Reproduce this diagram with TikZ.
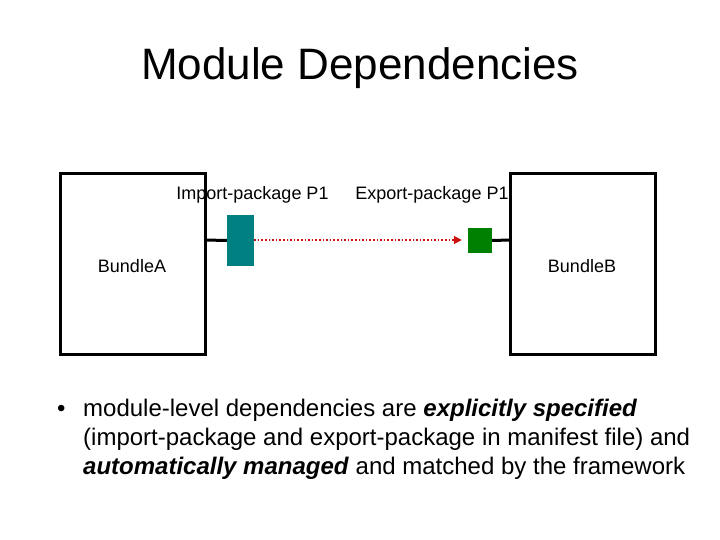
\documentclass[tikz,border=0pt]{standalone}
\usepackage{fontspec}
\setmainfont{Liberation Sans}
\usetikzlibrary{arrows.meta}
\definecolor{tealbox}{HTML}{008080}
\definecolor{greenbox}{HTML}{008000}
\definecolor{arrowred}{HTML}{CC1010}
\tikzset{
  bundle/.style={draw=black, line width=3pt, fill=white},
  stub/.style={draw=black, line width=3pt},
  lbl/.style={font=\fontsize{18}{21}\selectfont, inner sep=0pt},
  body/.style={font=\fontsize{24}{29}\selectfont, inner sep=0pt, anchor=base west},
  dep/.style={draw=arrowred, line width=1.6pt, dotted, -{Triangle[length=8pt,width=8pt,fill=arrowred]}}
}
\begin{document}
\begin{tikzpicture}[x=1pt,y=-1pt]
\useasboundingbox (0,0) rectangle (720,540);
\node[font=\fontsize{44}{50}\selectfont, inner sep=0pt] (title) at (360,68) {Module Dependencies};
% bundles
\draw[bundle] (60,174) rectangle (205,354);
\draw[bundle] (510,174) rectangle (655,354);
\coordinate (aedge) at (205,240);
\coordinate (bedge) at (510,240);
% packages
\node[fill=tealbox, minimum width=27pt, minimum height=51pt, inner sep=0pt] (imp) at (240.5,240.5) {};
\node[fill=greenbox, minimum width=24pt, minimum height=25pt, inner sep=0pt] (exp) at (480,240.5) {};
\draw[stub] (aedge) -- (imp.west);
\draw[stub] (exp.east) -- (bedge);
\draw[dep] (imp.east |- 0,240) -- ([xshift=-6pt]exp.west |- 0,240);
% labels
\node[lbl] (implbl) at (252.5,195) {Import-package P1};
\node[lbl] (explbl) at (432,195) {Export-package P1};
\node[lbl] (bA) at (132,266) {BundleA};
\node[lbl] (bB) at (582,266) {BundleB};
% bullet text
\node[body] (bul) at (57,416) {•};
\node[body] (l1) at (83,416) {module-level dependencies are \textbf{\textit{explicitly specified}}};
\node[body] (l2) at (83,445) {(import-package and export-package in manifest file) and};
\node[body] (l3) at (83,474) {\textbf{\textit{automatically managed}} and matched by the framework};
\end{tikzpicture}
\end{document}
